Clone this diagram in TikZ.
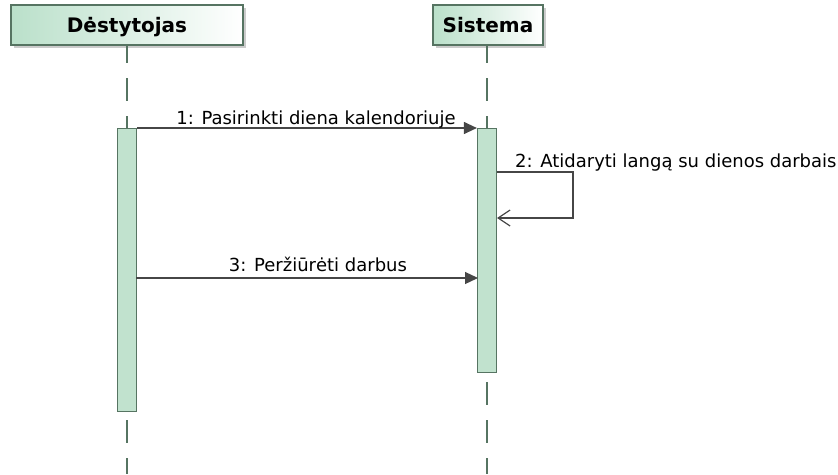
\documentclass[tikz,border=0pt]{standalone}
\usepackage{fontspec}
\setmainfont{DejaVu Sans}
\usetikzlibrary{arrows.meta,shadows}
\definecolor{actgreen}{RGB}{193,226,206}
\definecolor{hdrgreen}{RGB}{186,224,202}
\definecolor{edgegreen}{RGB}{86,116,98}
\definecolor{msggray}{RGB}{70,70,70}

\begin{document}
\begin{tikzpicture}[x=1pt, y=-1pt,
    header/.style={draw=edgegreen, line width=1.2pt, left color=hdrgreen, right color=white,
        minimum height=40pt, inner sep=0pt, text depth=0pt, font=\fontsize{20}{24}\selectfont\bfseries,
        drop shadow={fill=black!40, opacity=0.5, shadow xshift=3pt, shadow yshift=-3pt}},
    lifeline/.style={edgegreen, line width=1.2pt, dash pattern=on 23pt off 15pt, dash phase=5pt},
    activation/.style={draw=edgegreen, line width=1.2pt, fill=actgreen, minimum width=19pt,
        inner sep=0pt, anchor=north},
    msg/.style={msggray, line width=1.2pt, -{Triangle[length=13pt,width=12pt]}},
    reply/.style={msggray, line width=1.2pt, -{Straight Barb[length=12pt,width=16pt]}},
    lbl/.style={text=black, font=\fontsize{18}{22}\selectfont, inner sep=0pt}]
    \useasboundingbox (0,0) rectangle (838,474);

    \node[header, minimum width=232pt] (dest) at (127,25) {Dėstytojas};
    \node[header, minimum width=110pt] (sys) at (488,25) {Sistema};

    \coordinate (destend) at (127,474);
    \coordinate (sysend) at (487,474);
    \draw[lifeline] (127,45) -- (destend);
    \draw[lifeline] (487,45) -- (sysend);

    \node[activation, minimum height=283pt] (actD) at (127,128) {};
    \node[activation, minimum height=244pt] (actS) at (487,128) {};

    \draw[msg] (actD.north east) -- node[lbl, anchor=base, xshift=9pt, yshift=4pt] (lbl1)
        {1: Pasirinkti diena kalendoriuje} (actS.north west);

    \coordinate (m2s) at (497,172);
    \coordinate (m2e) at (497,218);
    \draw[reply] (m2s) -- ++(76,0) |- (m2e);
    \node[lbl, anchor=base west] (lbl2) at (515,167) {2: Atidaryti langą su dienos darbais};

    \coordinate (m3s) at (136,278);
    \coordinate (m3e) at (478,278);
    \draw[msg] (m3s) -- node[lbl, anchor=base, xshift=11pt, yshift=7pt] (lbl3)
        {3: Peržiūrėti darbus} (m3e);
\end{tikzpicture}
\end{document}
